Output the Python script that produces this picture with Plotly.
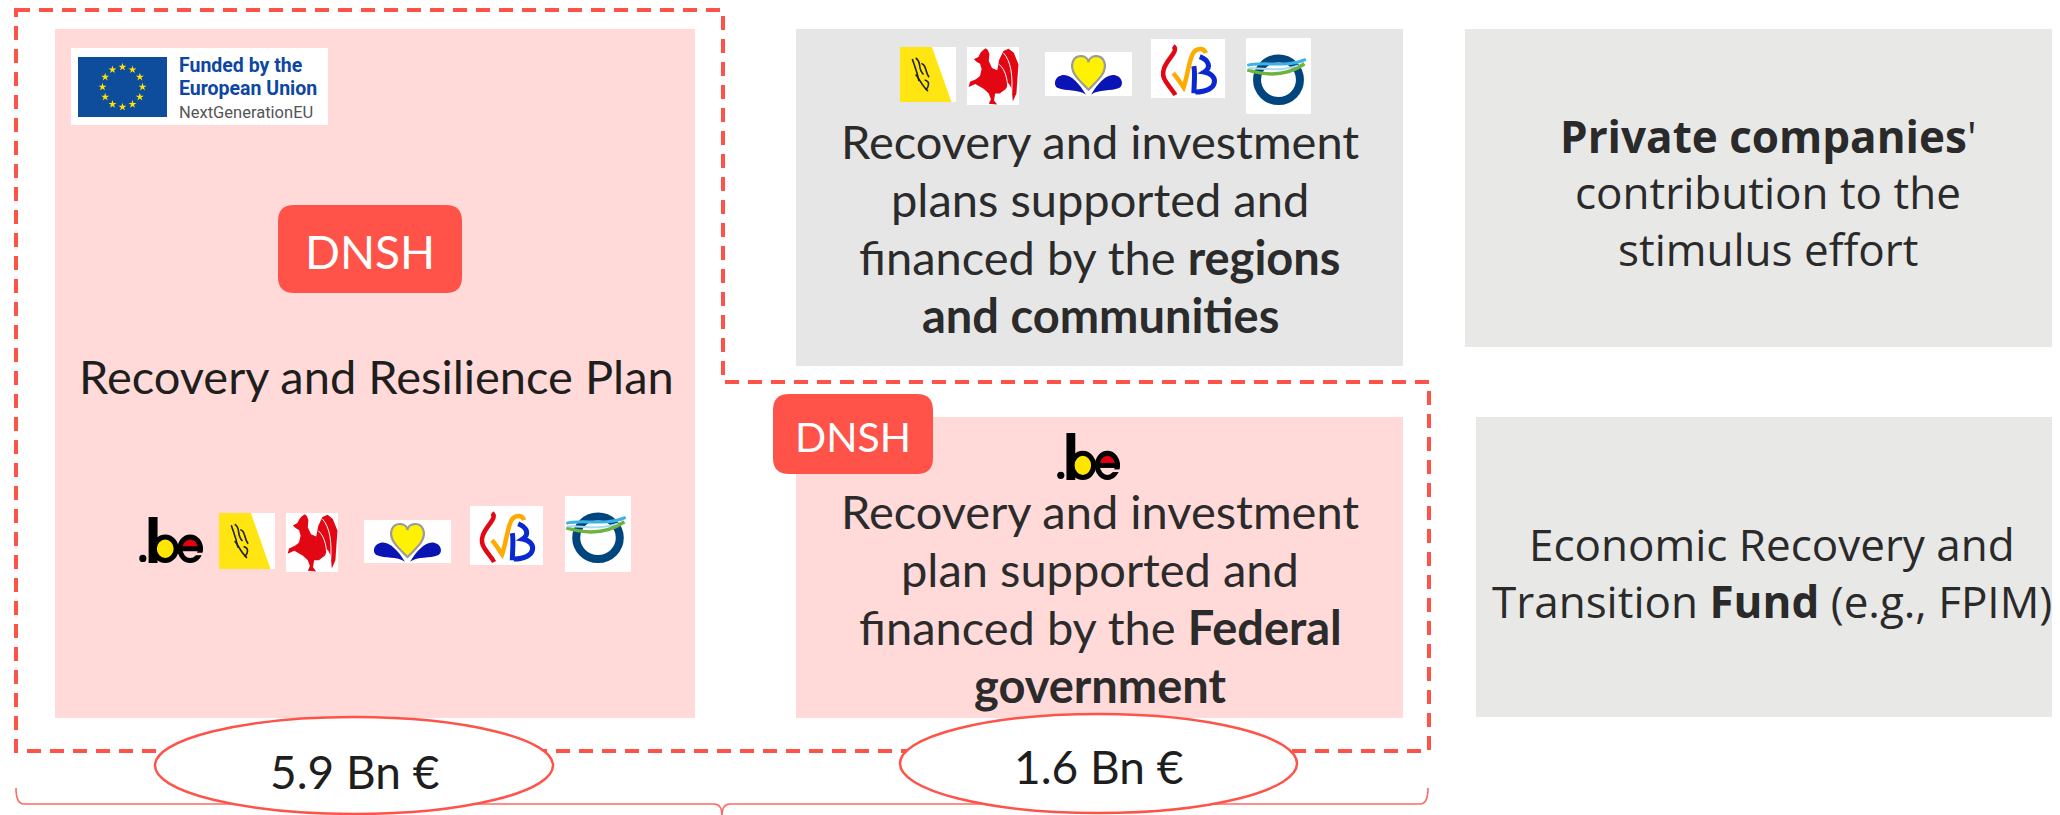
import numpy as np
import plotly.graph_objects as go

# ---------------- data / texts ----------------
eu_logo_lines = ["Funded by the", "European Union", "NextGenerationEU"]
dnsh_label = "DNSH"
rrp_title = "Recovery and Resilience Plan"
regions_lines = ["Recovery and investment", "plans supported and",
                 "financed by the <b>regions</b>", "<b>and communities</b>"]
federal_lines = ["Recovery and investment", "plan supported and",
                 "financed by the <b>Federal</b>", "<b>government</b>"]
private_lines = ["<b>Private companies</b>'", "contribution to the", "stimulus effort"]
fund_lines = ["Economic Recovery and", "Transition <b>Fund</b> (e.g., FPIM)"]
amounts = ["5.9 Bn €", "1.6 Bn €"]

W, H = 2060, 815
OFF = 8  # page body margin compensation
RED = "#FF5349"
PINK = "#FFDAD9"
GRAY = "#E6E6E6"
GRAY2 = "#E8E8E7"
TXT = "#2B2B2B"

shapes = []
annotations = []
traces = []


def rect(x0, y0, x1, y1, fill, line=None, lw=0, layer="below"):
    d = dict(type="rect", x0=x0, y0=y0, x1=x1, y1=y1, fillcolor=fill,
             line=dict(width=lw, color=line or fill), layer=layer)
    shapes.append(d)


def path(p, fill=None, line=None, lw=0, dash=None, layer="below"):
    d = dict(type="path", path=p, line=dict(width=lw, color=line or "rgba(0,0,0,0)"), layer=layer)
    if fill:
        d["fillcolor"] = fill
    if dash:
        d["line"]["dash"] = dash
    shapes.append(d)


def ellipse(x0, y0, x1, y1, fill=None, line=None, lw=0, layer="below"):
    d = dict(type="circle", x0=x0, y0=y0, x1=x1, y1=y1,
             line=dict(width=lw, color=line or "rgba(0,0,0,0)"), layer=layer)
    if fill:
        d["fillcolor"] = fill
    shapes.append(d)


def rounded(x0, y0, x1, y1, r, fill):
    p = (f"M{x0+r},{y0} L{x1-r},{y0} Q{x1},{y0} {x1},{y0+r} L{x1},{y1-r} "
         f"Q{x1},{y1} {x1-r},{y1} L{x0+r},{y1} Q{x0},{y1} {x0},{y1-r} "
         f"L{x0},{y0+r} Q{x0},{y0} {x0+r},{y0} Z")
    path(p, fill=fill)


def text(x, baseline, s, size, color=TXT, family="Lato", anchor="center"):
    annotations.append(dict(x=x, y=baseline - 0.33 * size, text=s, showarrow=False,
                            xanchor=anchor, yanchor="middle",
                            font=dict(size=size, color=color, family=family)))


def mapper(x0, y0, x1, y1):
    w, h = x1 - x0, y1 - y0
    return lambda u, v: (x0 + u * w, y0 + v * h)


def poly(m, pts, fill=None, line=None, lw=0, closed=True):
    s = "M" + " L".join(f"{m(u, v)[0]:.1f},{m(u, v)[1]:.1f}" for u, v in pts)
    if closed:
        s += " Z"
    path(s, fill=fill, line=line, lw=lw)


def curve(m, pts, line, lw):
    s = "M{:.1f},{:.1f}".format(*m(*pts[0]))
    i = 1
    while i + 2 < len(pts):
        a, b, c = m(*pts[i]), m(*pts[i + 1]), m(*pts[i + 2])
        s += f" C{a[0]:.1f},{a[1]:.1f} {b[0]:.1f},{b[1]:.1f} {c[0]:.1f},{c[1]:.1f}"
        i += 3
    path(s, line=line, lw=lw)


# ---------------- logos ----------------
def logo_be(x0, y0, x1, y1, bg):
    m = mapper(x0, y0, x1, y1)
    cx, cy = m(0.06, 0.90)
    ellipse(cx - 3.6, cy - 3.6, cx + 3.6, cy + 3.6, fill="black")
    a, b = m(0.15, 0.0), m(0.29, 1.0)
    rect(a[0], a[1], b[0], b[1], "black")
    a, b = m(0.20, 0.38), m(0.62, 1.0)
    ellipse(a[0] + 2.5, a[1] + 2.5, b[0] - 2.5, b[1] - 2.5, fill="#FFE600", line="black", lw=5)
    a, b = m(0.16, 0.40), m(0.27, 0.98)
    rect(a[0], a[1], b[0], b[1], "black")
    a, b = m(0.60, 0.38), m(1.0, 1.0)
    ex0, ey0, ex1, ey1 = a[0] + 2.5, a[1] + 2.5, b[0] - 2.5, b[1] - 2.5
    ecx, ecy = (ex0 + ex1) / 2, (ey0 + ey1) / 2
    rx, ry = (ex1 - ex0) / 2, (ey1 - ey0) / 2
    t = np.linspace(np.pi, 2 * np.pi, 20)
    pts = " L".join(f"{ecx + rx*np.cos(k):.1f},{ecy + ry*np.sin(k):.1f}" for k in t)
    path(f"M{pts} Z", fill="#E3000F")
    ellipse(ex0, ey0, ex1, ey1, line="black", lw=5)
    rect(ex0, ecy - 2.5, ex1 + 2, ecy + 2.5, "black")
    rect(ecx + 3, ecy + 4, ex1 + 4, ecy + ry * 0.55, bg)


def logo_flanders(x0, y0, x1, y1):
    m = mapper(x0, y0, x1, y1)
    rect(x0, y0, x1, y1, "white")
    poly(m, [(0, 0), (0.57, 0), (0.92, 1), (0, 1)], fill="#FFE512")
    for pts in ([(0.22, 0.22), (0.26, 0.35), (0.30, 0.42), (0.34, 0.62)],
                [(0.28, 0.20), (0.40, 0.28), (0.30, 0.38), (0.42, 0.50)],
                [(0.38, 0.30), (0.48, 0.32), (0.44, 0.45), (0.52, 0.55)],
                [(0.28, 0.50), (0.36, 0.60), (0.40, 0.72), (0.50, 0.80)],
                [(0.44, 0.60), (0.54, 0.62), (0.52, 0.72), (0.46, 0.78)]):
        curve(m, pts, "#222", 1.6)


def logo_wallonia(x0, y0, x1, y1):
    m = mapper(x0, y0, x1, y1)
    rect(x0, y0, x1, y1, "white")
    pts = [(0.30, 0.06), (0.36, 0.02), (0.40, 0.05), (0.43, 0.12),
           (0.42, 0.24), (0.48, 0.36), (0.58, 0.40),
           (0.62, 0.22), (0.70, 0.07), (0.80, 0.03), (0.90, 0.10), (0.99, 0.30),
           (0.97, 0.55), (0.95, 0.80), (0.88, 0.94), (0.86, 0.72), (0.80, 0.62),
           (0.75, 0.72), (0.63, 0.80), (0.54, 0.80),
           (0.52, 0.92), (0.58, 0.99), (0.42, 0.98), (0.46, 0.90), (0.42, 0.80),
           (0.32, 0.72), (0.16, 0.64), (0.03, 0.69), (0.06, 0.60), (0.18, 0.55),
           (0.25, 0.50), (0.28, 0.38), (0.25, 0.29), (0.19, 0.26), (0.13, 0.21),
           (0.22, 0.17), (0.26, 0.10)]
    poly(m, pts, fill="#E30613")
    for pp in ([(0.70, 0.10), (0.85, 0.25), (0.88, 0.50), (0.86, 0.80)],
               [(0.62, 0.30), (0.75, 0.40), (0.80, 0.60), (0.78, 0.85)]):
        curve(m, pp, "white", 1)


def logo_brussels(x0, y0, x1, y1):
    m = mapper(x0, y0, x1, y1)
    rect(x0, y0, x1, y1, "white")

    def bez(pts, fill, line=None, lw=0):
        s = "M{:.1f},{:.1f}".format(*m(*pts[0]))
        for i in range(1, len(pts), 3):
            a, b, c = m(*pts[i]), m(*pts[i + 1]), m(*pts[i + 2])
            s += f" C{a[0]:.1f},{a[1]:.1f} {b[0]:.1f},{b[1]:.1f} {c[0]:.1f},{c[1]:.1f}"
        path(s + " Z", fill=fill, line=line, lw=lw)

    bez([(0.47, 0.97), (0.40, 0.72), (0.30, 0.52), (0.22, 0.52),
         (0.12, 0.52), (0.08, 0.74), (0.15, 0.82),
         (0.24, 0.90), (0.38, 0.84), (0.47, 0.97)], "#0A14B4")
    bez([(0.53, 0.97), (0.60, 0.72), (0.70, 0.52), (0.78, 0.52),
         (0.88, 0.52), (0.92, 0.74), (0.85, 0.82),
         (0.76, 0.90), (0.62, 0.84), (0.53, 0.97)], "#0A14B4")
    bez([(0.50, 0.86), (0.38, 0.62), (0.28, 0.45), (0.32, 0.22),
         (0.36, 0.02), (0.50, 0.08), (0.50, 0.24),
         (0.50, 0.08), (0.64, 0.02), (0.68, 0.22),
         (0.72, 0.45), (0.62, 0.62), (0.50, 0.86)], "#FFF200", line="#9A9A9A", lw=2.2)


def logo_fwb(x0, y0, x1, y1):
    m = mapper(x0, y0, x1, y1)
    rect(x0, y0, x1, y1, "white")
    curve(m, [(0.30, 0.12), (0.42, 0.22), (0.05, 0.45), (0.20, 0.72),
              (0.25, 0.82), (0.30, 0.88), (0.33, 0.95)], "#E30613", 4.5)
    curve(m, [(0.30, 0.58), (0.36, 0.66), (0.40, 0.75), (0.44, 0.82),
              (0.50, 0.60), (0.52, 0.30), (0.58, 0.22),
              (0.64, 0.14), (0.72, 0.16), (0.74, 0.24)], "#FFAA00", 4.5)
    curve(m, [(0.58, 0.46), (0.60, 0.60), (0.58, 0.80), (0.58, 0.92)], "#0A28D2", 5)
    curve(m, [(0.66, 0.30), (0.78, 0.36), (0.82, 0.48), (0.72, 0.56),
              (0.92, 0.60), (0.92, 0.90), (0.60, 0.90)], "#0A28D2", 5)


def logo_dg(x0, y0, x1, y1):
    m = mapper(x0, y0, x1, y1)
    rect(x0, y0, x1, y1, "white")
    a, b = m(0.17, 0.27), m(0.83, 0.83)
    ellipse(a[0], a[1], b[0], b[1], line="#00457E", lw=8)
    curve(m, [(0.02, 0.42), (0.25, 0.48), (0.60, 0.52), (0.90, 0.34)], "#6DB33F", 3.5)
    curve(m, [(0.02, 0.36), (0.25, 0.30), (0.60, 0.40), (0.92, 0.28)], "#3EB2E6", 3)
    curve(m, [(0.04, 0.40), (0.20, 0.38), (0.50, 0.46), (0.80, 0.36)], "#A8DDF0", 2)


# ---------------- boxes ----------------
rect(55, 29, 695, 718, PINK)                    # RRP
rect(796, 29, 1403, 366, GRAY)                  # regions
rect(796, 417, 1403, 718, PINK)                 # federal
rect(1465, 29, 2070, 347, GRAY2)                # private companies
rect(1476, 417, 2070, 717, GRAY2)               # fund

# dashed outline
path("M16,10 L723,10 L723,382 L1429,382 L1429,751 L16,751 Z", line=RED, lw=4, dash="14px,9px")

# bottom brace
path("M16,788 Q16,804 24,804 L714,804 Q722,804 722,816 Q722,804 730,804 L1420,804 "
     "Q1428,804 1428,788", line="#FF6A62", lw=1.6)

# EU logo
rect(71, 48, 328, 125, "white")
rect(78, 57, 167, 117, "#0E4C9C")
ang = np.arange(12) * np.pi / 6
traces.append(go.Scatter(x=122.5 + 20 * np.cos(ang), y=87 + 20 * np.sin(ang), mode="markers",
                         marker=dict(symbol="star", size=6, color="#FFE200", line=dict(width=0)),
                         hoverinfo="skip"))
text(177, 72, f"<b>{eu_logo_lines[0]}</b>", 19.5, color="#0E47A1", family="Roboto", anchor="left")
text(177, 95, f"<b>{eu_logo_lines[1]}</b>", 19.5, color="#0E47A1", family="Roboto", anchor="left")
text(177, 118, eu_logo_lines[2], 16.5, color="#555555", family="Roboto", anchor="left")

# DNSH badges
rounded(278, 205, 462, 293, 16, RED)
text(370, 267, dnsh_label, 46, color="white")
rounded(773, 394, 933, 474, 16, RED)
text(853, 450, dnsh_label, 41, color="white")

# RRP title
text(376, 392, rrp_title, 47, color="#1E1E1E")

# logos row in RRP box
logo_be(139, 517, 203, 563, PINK)
logo_flanders(219, 513, 275, 569)
logo_wallonia(286, 513, 338, 572)
logo_brussels(364, 520, 451, 563)
logo_fwb(470, 506, 543, 565)
logo_dg(565, 496, 631, 572)

# logos row in regions box
logo_flanders(900, 47, 956, 102)
logo_wallonia(967, 47, 1019, 105)
logo_brussels(1045, 52, 1132, 96)
logo_fwb(1151, 39, 1225, 98)
logo_dg(1246, 38, 1311, 114)

# regions text
for s, bl in zip(regions_lines, [157, 215, 273, 331]):
    text(1100, bl, s, 47)

# federal
logo_be(1057, 433, 1120, 480, PINK)
for s, bl in zip(federal_lines, [527, 585, 643, 701]):
    text(1100, bl, s, 47)

# right column
for s, bl in zip(private_lines, [151, 207, 264]):
    text(1768, bl, s, 44, family="Open Sans", color="#2A2A2A")
for s, bl in zip(fund_lines, [559, 616]):
    text(1772, bl, s, 44, family="Open Sans", color="#2A2A2A")

# amount ellipses
ellipse(155, 717, 553, 814, fill="white", line=RED, lw=2.5, layer="above")
ellipse(900, 714, 1297, 813, fill="white", line=RED, lw=2.5, layer="above")
text(354, 787, amounts[0], 46, color="#1E1E1E")
text(1098, 782, amounts[1], 46, color="#1E1E1E")

fig = go.Figure(traces)
fig.update_layout(
    width=W, height=H, autosize=False,
    margin=dict(l=0, r=0, t=0, b=0),
    paper_bgcolor="white", plot_bgcolor="white",
    showlegend=False,
    xaxis=dict(range=[OFF, W + OFF], visible=False, fixedrange=True),
    yaxis=dict(range=[H + OFF, OFF], visible=False, fixedrange=True),
    shapes=shapes, annotations=annotations,
)
fig.write_html("out.html")
